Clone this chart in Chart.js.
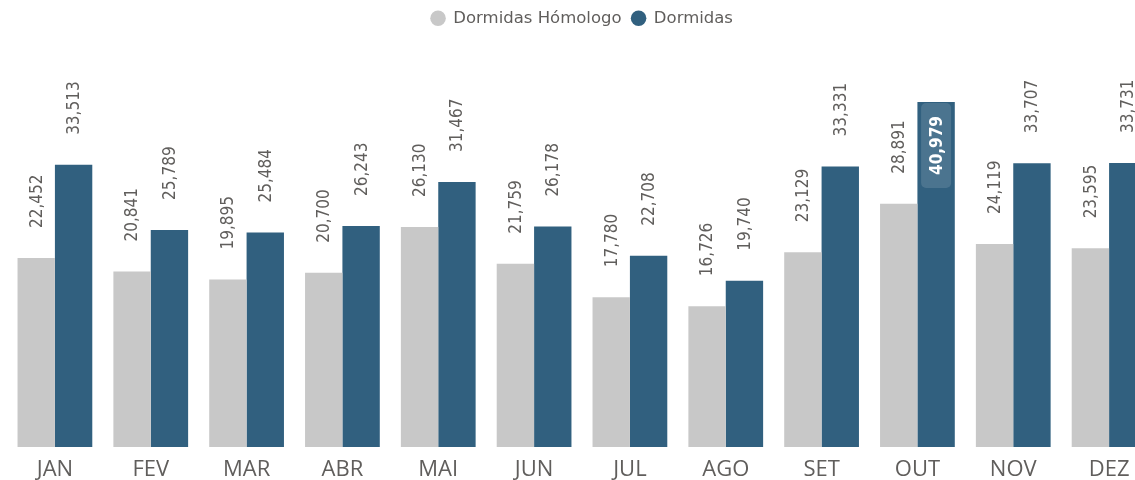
<!DOCTYPE html>
<html>
<head>
<meta charset="utf-8">
<script src="https://cdn.jsdelivr.net/npm/chart.js@4"></script>
<style>
  html, body { margin: 0; padding: 0; background: #fff; overflow: hidden; }
</style>
</head>
<body>
<canvas id="chart" width="1164" height="480"></canvas>
<script>
const months = ["JAN", "FEV", "MAR", "ABR", "MAI", "JUN", "JUL", "AGO", "SET", "OUT", "NOV", "DEZ"];
const homologo = [22452, 20841, 19895, 20700, 26130, 21759, 17780, 16726, 23129, 28891, 24119, 23595];
const dormidas = [33513, 25789, 25484, 26243, 31467, 26178, 22708, 19740, 33331, 40979, 33707, 33731];

const GREY = "#c8c8c8";
const BLUE = "#31607f";
const TEXT = "#605e5c";
const LABEL_FONT = "17px 'DejaVu Sans Condensed', 'Liberation Sans Narrow', sans-serif";

// push the plot down so its top sits where the tallest bar ends
const legendSpace = {
  id: "legendSpace",
  beforeInit(chart) {
    const fit = chart.legend.fit;
    chart.legend.fit = function () {
      fit.bind(chart.legend)();
      this.height = 102;
    };
  },
};

// rotated value labels above each bar, or inside when there's no room
const barLabels = {
  id: "barLabels",
  afterDatasetsDraw(chart) {
    const ctx = chart.ctx;
    ctx.save();
    ctx.font = LABEL_FONT;
    chart.data.datasets.forEach((ds, di) => {
      const meta = chart.getDatasetMeta(di);
      meta.data.forEach((bar, i) => {
        const txt = ds.data[i].toLocaleString("en-US");
        const w = ctx.measureText(txt).width;
        const gap = 30;
        ctx.save();
        if (bar.y - gap - w < 40) {
          const rh = 85, rw = 30;
          ctx.fillStyle = "rgba(255,255,255,0.13)";
          ctx.beginPath();
          ctx.roundRect(bar.x - rw / 2, bar.y + 1, rw, rh, 5);
          ctx.fill();
          ctx.translate(bar.x, bar.y + 1 + rh / 2);
          ctx.rotate(-Math.PI / 2);
          ctx.fillStyle = "#ffffff";
          ctx.font = "bold " + LABEL_FONT;
          ctx.textAlign = "center";
          ctx.textBaseline = "middle";
          ctx.fillText(txt, 0, 1);
        } else {
          ctx.translate(bar.x, bar.y - gap);
          ctx.rotate(-Math.PI / 2);
          ctx.fillStyle = TEXT;
          ctx.textAlign = "left";
          ctx.textBaseline = "middle";
          ctx.fillText(txt, 0, 1);
        }
        ctx.restore();
      });
    });
    ctx.restore();
  },
};

new Chart(document.getElementById("chart"), {
  type: "bar",
  data: {
    labels: months,
    datasets: [
      { label: "Dormidas Hómologo", data: homologo, backgroundColor: GREY },
      { label: "Dormidas", data: dormidas, backgroundColor: BLUE },
    ],
  },
  options: {
    responsive: false,
    animation: false,
    layout: { padding: { left: 7, right: 7, top: 0, bottom: 0 } },
    datasets: { bar: { categoryPercentage: 0.78, barPercentage: 1.0 } },
    plugins: {
      legend: {
        position: "top",
        labels: {
          color: TEXT,
          font: { family: "'DejaVu Sans', sans-serif", size: 16.5 },
          usePointStyle: true,
          pointStyle: "circle",
          boxHeight: 11,
          boxWidth: 14,
          padding: 10,
        },
      },
      tooltip: { enabled: false },
    },
    scales: {
      x: {
        grid: { display: false, drawTicks: false },
        border: { display: false },
        ticks: {
          color: TEXT,
          padding: 12,
          font: { family: "'Open Sans', sans-serif", size: 22, lineHeight: 1 },
        },
        afterFit(scale) {
          scale.height = 33;
        },
      },
      y: { display: false, min: 0, max: 40979 },
    },
  },
  plugins: [legendSpace, barLabels],
});
</script>
</body>
</html>
